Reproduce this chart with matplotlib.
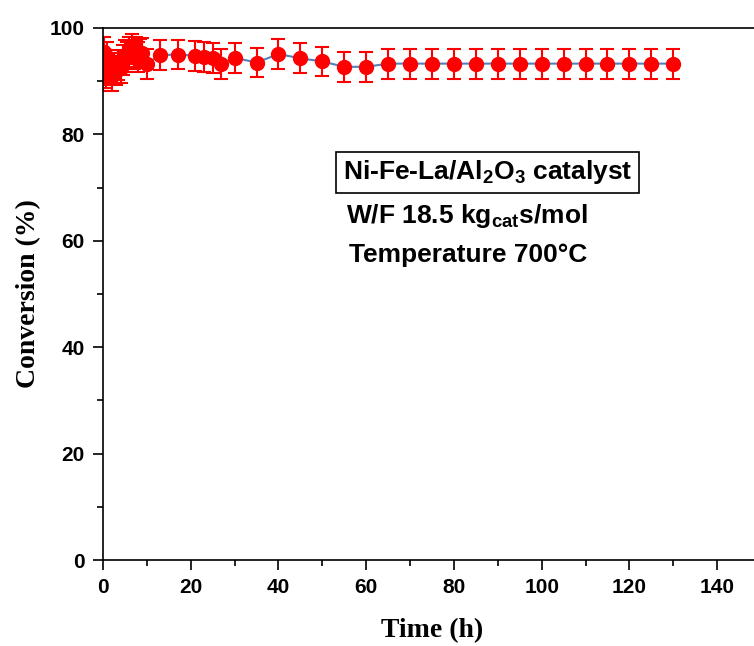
import numpy as np
import matplotlib
matplotlib.use("Agg")
import matplotlib.pyplot as plt
from matplotlib.ticker import MultipleLocator

# time on stream (h) and conversion (%)
time_h = [0, 0.25, 0.5, 0.75, 1, 1.5, 2, 2.5, 3, 3.5, 4, 4.5, 5, 5.5, 6, 6.5, 7, 7.5,
          8, 8.5, 9, 10, 13, 17, 21, 23, 25, 27, 30, 35, 40, 45, 50, 55, 60,
          65, 70, 75, 80, 85, 90, 95, 100, 105, 110, 115, 120, 125, 130]
conversion = [91.0, 95.5, 93.0, 91.5, 94.5, 92.0, 91.0, 92.5, 92.0, 93.0, 92.5, 94.0,
              95.0, 94.5, 95.5, 96.0, 95.0, 95.5, 94.5, 95.2, 95.3, 93.3, 94.9, 95.0,
              94.8, 94.6, 94.3, 93.2, 94.4, 93.5, 95.1, 94.3, 93.7, 92.7, 92.7,
              93.3, 93.3, 93.3, 93.3, 93.3, 93.3, 93.3, 93.3, 93.3, 93.3, 93.3, 93.3, 93.3, 93.3]
error = [2.8] * len(time_h)

plt.rcParams["font.family"] = "Liberation Sans"
plt.rcParams["mathtext.fontset"] = "custom"
plt.rcParams["mathtext.rm"] = "Liberation Sans:bold"
plt.rcParams["mathtext.bf"] = "Liberation Sans:bold"
plt.rcParams["mathtext.it"] = "Liberation Sans:bold"

fig = plt.figure(figsize=(7.54, 6.46), dpi=100)
ax = fig.add_axes([0.1366, 0.1331, 0.8727, 0.8236])

ax.plot(time_h, conversion, color="#4f81bd", lw=1.5, zorder=1)
ax.errorbar(time_h, conversion, yerr=error, fmt="o", color="red", ms=10,
            ecolor="red", elinewidth=1.5, capsize=5, capthick=1.5, zorder=2)

ax.set_xlim(0, 150)
ax.set_ylim(0, 100)
ax.xaxis.set_major_locator(MultipleLocator(20))
ax.xaxis.set_minor_locator(MultipleLocator(10))
ax.yaxis.set_major_locator(MultipleLocator(20))
ax.yaxis.set_minor_locator(MultipleLocator(10))
ax.tick_params(which="major", direction="out", length=7, width=1.2, labelsize=15, pad=6)
ax.tick_params(which="minor", direction="out", length=4, width=1.2)
for lab in ax.get_xticklabels() + ax.get_yticklabels():
    lab.set_fontweight("bold")
for sp in ax.spines.values():
    sp.set_linewidth(1.2)

ax.set_xlabel("Time (h)", fontfamily="Liberation Serif", fontweight="bold",
              fontsize=20, labelpad=15)
ax.set_ylabel("Conversion (%)", fontfamily="Liberation Serif", fontweight="bold",
              fontsize=20, labelpad=6)

ax.text(54.6, 72.9, r"Ni-Fe-La/Al$_2$O$_3$ catalyst", fontsize=19, fontweight="bold",
        ha="left", va="center",
        bbox=dict(boxstyle="square,pad=0.25", fc="white", ec="black", lw=1.2))
ax.text(55.3, 64.7, r"W/F 18.5 kg$_\mathrm{cat}$s/mol", fontsize=19, fontweight="bold",
        ha="left", va="center")
ax.text(56.0, 57.3, "Temperature 700\u00b0C", fontsize=19, fontweight="bold",
        ha="left", va="center")

fig.savefig("out.png", dpi=100)
